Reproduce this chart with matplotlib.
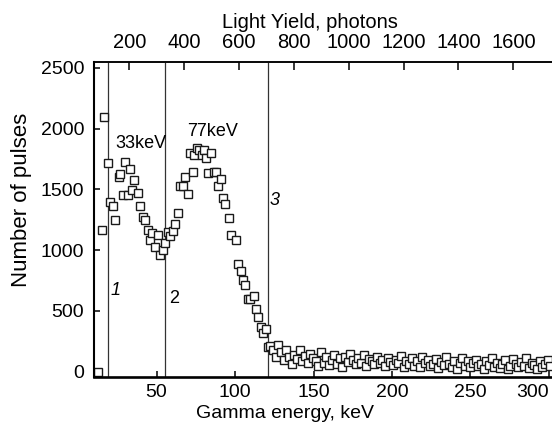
import matplotlib
matplotlib.use("Agg")
import matplotlib.pyplot as plt

plt.rcParams['font.family'] = ['Liberation Sans', 'DejaVu Sans']

# spectrum (keV, counts)
peak_x = [12.4, 15.2, 16.7, 18.8, 20.5, 22.0, 23.7, 26.2, 26.9, 28.3, 30.0, 31.5,
          33.0, 34.3, 35.8, 37.9, 39.4, 41.1, 42.8, 44.3, 45.8, 47.1, 49.0, 50.6,
          52.4, 53.8, 55.5, 57.0, 58.5, 60.2, 61.7, 63.4, 65.1, 67.0, 68.3, 69.7,
          71.5, 72.9, 74.0, 75.5, 77.2, 78.9, 80.4, 81.5, 82.5, 84.6, 86.3, 87.8,
          89.3, 91.0, 92.0, 93.8, 95.9, 97.6, 100.6, 101.8, 103.8, 104.8, 106.5,
          108.2, 109.7, 111.8, 113.3, 114.8, 116.5, 117.5, 119.7, 120.7, 122.5,
          124.3, 126.0, 127.5]
peak_y = [0, 1170, 2100, 1720, 1400, 1365, 1250, 1605, 1625, 1455, 1725, 1455,
          1665, 1495, 1580, 1475, 1360, 1275, 1250, 1165, 1085, 1140, 1030, 1125,
          960, 1000, 1060, 1150, 1120, 1160, 1220, 1305, 1525, 1530, 1605, 1460,
          1800, 1645, 1785, 1840, 1825, 1785, 1825, 1755, 1635, 1800, 1640, 1645,
          1525, 1590, 1430, 1380, 1265, 1125, 1085, 885, 830, 755, 710,
          600, 595, 620, 520, 450, 365, 315, 355, 200, 215,
          180, 125, 220]

tail_x = [129.2, 130.9, 132.6, 134.3, 136.0, 137.7, 139.4, 141.1, 142.8, 144.5,
          146.2, 147.9, 149.6, 151.3, 153.0, 154.7, 156.4, 158.1, 159.8, 161.5,
          163.2, 164.9, 166.6, 168.3, 170.0, 171.7, 173.4, 175.1, 176.8, 178.5,
          180.2, 181.9, 183.6, 185.3, 187.0, 188.7, 190.4, 192.1, 193.8, 195.5,
          197.2, 198.9, 200.6, 202.3, 204.0, 205.7, 207.4, 209.1, 210.8, 212.5,
          214.2, 215.9, 217.6, 219.3, 221.0, 222.7, 224.4, 226.1, 227.8, 229.5,
          231.2, 232.9, 234.6, 236.3, 238.0, 239.7, 241.4, 243.1, 244.8, 246.5,
          248.2, 249.9, 251.6, 253.3, 255.0, 256.7, 258.4, 260.1, 261.8, 263.5,
          265.2, 266.9, 268.6, 270.3, 272.0, 273.7, 275.4, 277.1, 278.8, 280.5,
          282.2, 283.9, 285.6, 287.3, 289.0, 290.7, 292.4, 294.1, 295.8, 297.5,
          299.2, 300.9]
tail_y = [160, 95, 175, 120, 60, 140, 105, 180, 85, 130,
          70, 150, 110, 90, 45, 165, 75, 120, 55, 100,
          140, 65, 110, 40, 125, 80, 150, 95, 60, 115,
          70, 135, 50, 105, 85, 60, 125, 75, 95, 45,
          110, 80, 55, 100, 70, 130, 40, 90, 65, 115,
          50, 85, 35, 120, 70, 95, 45, 60, 105, 30,
          80, 55, 125, 65, 40, 90, 20, 75, 110, 50,
          85, 35, 70, 100, 45, 60, 25, 90, 55, 115,
          40, 75, 30, 65, 95, 20, 50, 105, 60, 35,
          80, 45, 110, 30, 70, 55, 25, 90, 40, 65,
          100, 50]

# threshold lines and labels
cut_x = [19.2, 55.1, 121.0]
cut_labels = ["1", "2", "3"]
cut_label_pos = [(24.1, 672), (61.0, 606), (125.3, 1413)]
peak_labels = ["33keV", "77keV"]
peak_label_pos = [(40.0, 1880), (85.5, 1975)]

x_ticks = [50, 100, 150, 200, 250, 300]
y_ticks = [0, 500, 1000, 1500, 2000, 2500]
ly_ticks = [200, 400, 600, 800, 1000, 1200, 1400, 1600]


def kev_to_ly(e):
    return 5.72 * (e + 2.36)


def ly_to_kev(p):
    return p / 5.72 - 2.36


fig = plt.figure(figsize=(5.52, 4.29), dpi=100)
ax = fig.add_axes([0.170, 0.121, 0.830, 0.735])

x_all = peak_x + tail_x
y_all = peak_y + tail_y
ax.plot(x_all, y_all, linestyle="none", marker="s", markersize=6.2,
        markerfacecolor="white", markeredgecolor="#1a1a1a", markeredgewidth=1.0)

for xc in cut_x:
    ax.axvline(xc, color="#333333", linewidth=0.9, zorder=1)
for lab, (tx, ty) in zip(cut_labels, cut_label_pos):
    ax.text(tx, ty, lab, fontsize=13, style="italic" if lab != "2" else "normal",
            ha="center", va="center")
for lab, (tx, ty) in zip(peak_labels, peak_label_pos):
    ax.text(tx, ty, lab, fontsize=13, ha="center", va="center")

ax.set_xlim(10, 302)
ax.set_ylim(-44, 2551)
ax.set_xticks(x_ticks)
ax.set_yticks(y_ticks)
ax.tick_params(axis="x", direction="in", length=4.5, width=1.1, labelsize=14, pad=5)
ax.tick_params(axis="y", direction="in", length=4, width=1.1, labelsize=14, pad=7)
ax.get_xticklabels()[-1].set_horizontalalignment("right")

ax.spines["bottom"].set_linewidth(1.9)
ax.spines["left"].set_linewidth(1.5)
ax.spines["top"].set_linewidth(1.1)
ax.spines["right"].set_visible(False)

top = ax.secondary_xaxis("top", functions=(kev_to_ly, ly_to_kev))
top.set_xticks(ly_ticks)
top.tick_params(direction="in", length=6, width=1.1, labelsize=14.5, pad=7)
top.spines["top"].set_linewidth(1.1)

# axis titles placed where the reference has them
fig.text(285 / 552, 1 - 413 / 429, "Gamma energy, keV", fontsize=14,
         ha="center", va="center")
fig.text(310 / 552, 1 - 22 / 429, "Light Yield, photons", fontsize=14.5,
         ha="center", va="center")
fig.text(22 / 552, 1 - 200 / 429, "Number of pulses", fontsize=16,
         rotation=90, ha="center", va="center")

fig.savefig("out.png", dpi=100)
